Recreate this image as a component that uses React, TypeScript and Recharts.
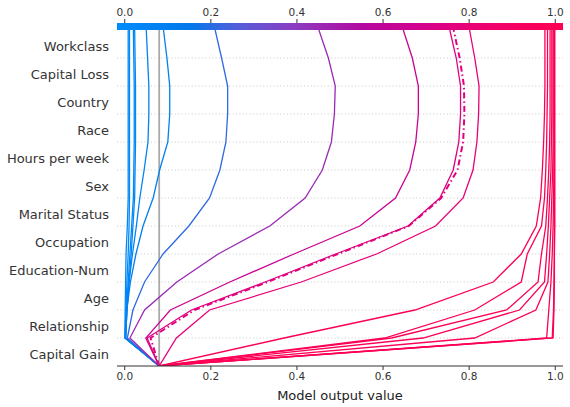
import React from "react";
import {
  LineChart,
  Line,
  XAxis,
  YAxis,
  ReferenceLine,
  ReferenceArea,
} from "recharts";

// feature names, bottom row first (order of the cumulative walk)
const FEATURES = [
  "Capital Gain",
  "Relationship",
  "Age",
  "Education-Num",
  "Occupation",
  "Marital Status",
  "Sex",
  "Hours per week",
  "Race",
  "Country",
  "Capital Loss",
  "Workclass",
];

const BASE_VALUE = 0.08;
const X_TICKS = [0, 0.2, 0.4, 0.6, 0.8, 1.0];

// cumulative model output after each feature (bottom -> top)
const blue1 = [0.0, 0.001, 0.002, 0.003, 0.006, 0.008, 0.008, 0.008, 0.008, 0.008, 0.008, 0.008];
const blue2 = [0.001, 0.003, 0.005, 0.008, 0.01, 0.011, 0.011, 0.011, 0.011, 0.011, 0.011, 0.011];
const blue3 = [0.001, 0.004, 0.008, 0.012, 0.016, 0.02, 0.021, 0.022, 0.022, 0.022, 0.021, 0.02];
const blue4 = [0.002, 0.005, 0.01, 0.015, 0.019, 0.023, 0.024, 0.025, 0.025, 0.025, 0.024, 0.023];
const blue5 = [0.002, 0.005, 0.01, 0.018, 0.027, 0.035, 0.045, 0.054, 0.056, 0.056, 0.053, 0.05];
const blue6 = [0.002, 0.005, 0.013, 0.026, 0.0425, 0.066, 0.081, 0.1, 0.1045, 0.1045, 0.098, 0.09];
const blue7 = [0.006, 0.019, 0.046, 0.089, 0.149, 0.197, 0.221, 0.235, 0.239, 0.239, 0.225, 0.21];
const purple1 = [0.012, 0.046, 0.121, 0.217, 0.337, 0.419, 0.459, 0.48, 0.487, 0.489, 0.473, 0.451];
const magenta1 = [0.049, 0.106, 0.244, 0.393, 0.546, 0.629, 0.662, 0.676, 0.682, 0.682, 0.668, 0.647];
const magenta2 = [0.052, 0.155, 0.326, 0.49, 0.658, 0.732, 0.763, 0.776, 0.78, 0.78, 0.77, 0.755];
const misclassified = [0.06, 0.162, 0.332, 0.495, 0.66, 0.735, 0.773, 0.786, 0.789, 0.788, 0.778, 0.764];
const magenta3 = [0.12, 0.197, 0.41, 0.585, 0.722, 0.786, 0.809, 0.818, 0.822, 0.823, 0.813, 0.801];
const red1 = [0.37, 0.674, 0.856, 0.921, 0.956, 0.966, 0.97, 0.973, 0.975, 0.976, 0.976, 0.976];
const red2 = [0.604, 0.813, 0.921, 0.935, 0.968, 0.975, 0.978, 0.98, 0.981, 0.982, 0.982, 0.982];
const red3 = [0.62, 0.887, 0.96, 0.968, 0.978, 0.982, 0.985, 0.987, 0.988, 0.988, 0.988, 0.988];
const red4 = [0.693, 0.917, 0.975, 0.98, 0.984, 0.987, 0.99, 0.991, 0.992, 0.992, 0.992, 0.992];
const red5 = [0.813, 0.955, 0.983, 0.987, 0.99, 0.992, 0.994, 0.995, 0.995, 0.995, 0.995, 0.995];
const red6 = [0.98, 0.985, 0.99, 0.993, 0.995, 0.996, 0.997, 0.997, 0.997, 0.997, 0.997, 0.997];
const red7 = [0.993, 0.996, 0.997, 0.998, 0.998, 0.998, 0.998, 0.998, 0.998, 0.998, 0.998, 0.998];
const red8 = [0.995, 0.997, 0.998, 0.998, 0.999, 0.999, 0.999, 0.999, 0.999, 0.999, 0.999, 0.999];

const PATHS = [
  blue1, blue2, blue3, blue4, blue5, blue6, blue7,
  purple1, magenta1, magenta2, magenta3,
  red1, red2, red3, red4, red5, red6, red7, red8,
  misclassified,
];
const HIGHLIGHT = PATHS.length - 1;

const X_MIN = -0.018;
const X_MAX = 1.018;
const Y_TOP = 12.25;

// shap red_blue colormap (approximate)
const CMAP = [
  [0, "#008bfb"],
  [0.16, "#0079eb"],
  [0.28, "#5a5bd8"],
  [0.4, "#8b3cc0"],
  [0.55, "#b3089f"],
  [0.7, "#d8008a"],
  [0.85, "#f2006a"],
  [1, "#ff0051"],
] as const;

function hex(c: string) {
  return [1, 3, 5].map((i) => parseInt(c.slice(i, i + 2), 16));
}

function cmap(t: number) {
  t = Math.max(0, Math.min(1, t));
  for (let i = 1; i < CMAP.length; i++) {
    const [t1, c1] = CMAP[i];
    const [t0, c0] = CMAP[i - 1];
    if (t <= t1) {
      const f = (t - t0) / (t1 - t0);
      const a = hex(c0);
      const b = hex(c1);
      const rgb = a.map((v, k) => Math.round(v + (b[k] - v) * f));
      return `rgb(${rgb.join(",")})`;
    }
  }
  return CMAP[CMAP.length - 1][1];
}

const colorFor = (v: number) => cmap((v - X_MIN) / (X_MAX - X_MIN));

const rows = Array.from({ length: FEATURES.length + 1 }, (_, level) => {
  const row: Record<string, number> = { level };
  PATHS.forEach((p, i) => {
    row[`s${i}`] = level === 0 ? BASE_VALUE : p[level - 1];
  });
  return row;
});

const yTicks = FEATURES.map((_, i) => i + 0.5);
const gridLevels = FEATURES.map((_, i) => i + 1).slice(0, -1);

export default function App() {
  return (
    <div
      style={{
        position: "absolute",
        left: 0,
        top: 0,
        width: 570,
        height: 407,
        background: "#fff",
        fontFamily: "'DejaVu Sans', sans-serif",
      }}
    >
      <LineChart
        layout="vertical"
        width={570}
        height={407}
        data={rows}
        margin={{ top: 0, right: 7, bottom: 0, left: 0 }}
      >
        <defs>
          <linearGradient id="cbar" x1="0" y1="0" x2="1" y2="0">
            {CMAP.map(([t, c]) => (
              <stop key={t} offset={`${t * 100}%`} stopColor={c} />
            ))}
          </linearGradient>
        </defs>
        <XAxis
          type="number"
          domain={[X_MIN, X_MAX]}
          allowDataOverflow
          ticks={X_TICKS}
          tickFormatter={(v: number) => v.toFixed(1)}
          height={41}
          stroke="#333"
          tickSize={4}
          tickMargin={3}
          tick={{ fontSize: 10.5, fill: "#333" }}
          label={{
            value: "Model output value",
            position: "insideBottom",
            offset: 7,
            fontSize: 13,
            fill: "#222",
          }}
        />
        <XAxis
          xAxisId="top"
          orientation="top"
          type="number"
          domain={[X_MIN, X_MAX]}
          allowDataOverflow
          ticks={X_TICKS}
          tickFormatter={(v: number) => v.toFixed(1)}
          height={23}
          axisLine={false}
          stroke="#333"
          tickSize={4}
          tickMargin={3}
          tick={{ fontSize: 10.5, fill: "#333" }}
        />
        <YAxis
          type="number"
          dataKey="level"
          domain={[0, Y_TOP]}
          reversed
          allowDataOverflow
          ticks={yTicks}
          tickFormatter={(v: number) => FEATURES[Math.floor(v)]}
          width={117}
          axisLine={false}
          tickLine={false}
          tickSize={0}
          tickMargin={8}
          tick={{ fontSize: 13, fill: "#333", dy: 2 }}
        />
        {gridLevels.map((lv) => (
          <ReferenceLine
            key={lv}
            y={lv}
            stroke="#c4c4c4"
            strokeWidth={0.9}
            strokeDasharray="1 2.4"
          />
        ))}
        <ReferenceLine
          segment={[
            { x: BASE_VALUE, y: 0 },
            { x: BASE_VALUE, y: FEATURES.length },
          ]}
          stroke="#a9a9a9"
          strokeWidth={1.8}
        />
        {PATHS.map((p, i) => (
          <Line
            key={i}
            dataKey={`s${i}`}
            stroke={colorFor(p[p.length - 1])}
            strokeWidth={i === HIGHLIGHT ? 2 : 1.3}
            strokeDasharray={i === HIGHLIGHT ? "6 3 1.5 3" : undefined}
            dot={false}
            activeDot={false}
            isAnimationActive={false}
          />
        ))}
        <ReferenceArea
          x1={X_MIN}
          x2={X_MAX}
          y1={FEATURES.length}
          y2={Y_TOP}
          fill="url(#cbar)"
          fillOpacity={1}
          stroke="none"
          ifOverflow="visible"
        />
      </LineChart>
    </div>
  );
}
